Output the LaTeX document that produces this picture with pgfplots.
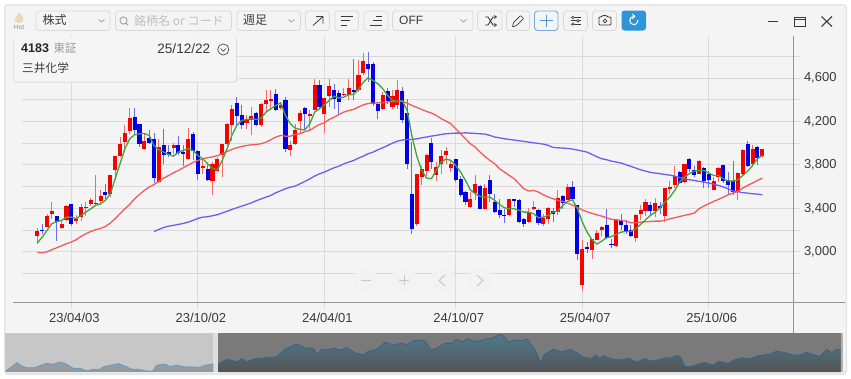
\documentclass[border=0pt]{standalone}
\usepackage{pgfplots}
\usepackage{pgfplotstable}
\usepackage{fontspec}
\pgfplotsset{compat=1.18}
\setmainfont{Liberation Sans}
\newfontfamily\cjk{Noto Sans CJK JP}
\definecolor{winbg}{HTML}{F4F4F4}
\definecolor{gridc}{HTML}{DADADA}
\definecolor{btn}{HTML}{D9D9D9}
\definecolor{ink}{HTML}{3A3A3A}
\definecolor{upc}{HTML}{F80000}
\definecolor{dnc}{HTML}{0000E6}
\definecolor{upw}{HTML}{F26A6A}
\definecolor{dnw}{HTML}{6A6AF0}
\definecolor{mag}{HTML}{3FA53F}
\definecolor{mar}{HTML}{F05C5C}
\definecolor{mab}{HTML}{6A60EC}
\definecolor{flame}{HTML}{E9D8BC}
\definecolor{ovtl}{HTML}{8F9DAA}
\definecolor{ovbl}{HTML}{989898}
\definecolor{ovll}{HTML}{6E9BBE}
\definecolor{ovtr}{HTML}{507A8C}
\definecolor{ovbr}{HTML}{525456}
\definecolor{ovlr}{HTML}{3A6487}
\pgfplotstableread{
i o h l c
0 3141 3215 3073 3190
2 3227 3344 3227 3332
3 3344 3455 3304 3378
5 3215 3283 3212 3252
6 3295 3433 3283 3418
8 3283 3335 3252 3304
9 3320 3442 3283 3415
10 3399 3458 3326 3415
11 3436 3497 3424 3473
12 3436 3703 3427 3448
13 3464 3565 3427 3516
15 3528 3706 3504 3706
16 3749 3884 3657 3884
17 3878 4056 3872 3995
18 4010 4164 3918 4093
19 4117 4326 4087 4234
22 3949 4087 3933 4019
25 3642 4041 3633 3964
28 3952 4001 3903 3979
31 3857 4142 3847 4041
34 3774 3857 3718 3786
36 3651 3826 3519 3811
37 3743 3872 3734 3851
38 3893 3992 3688 3992
39 3995 4188 3949 4176
40 4164 4348 4025 4311
43 4188 4256 4133 4219
44 4210 4333 4078 4250
46 4170 4373 4148 4363
47 4363 4486 4287 4397
48 4388 4486 4311 4406
50 4327 4379 4302 4351
52 3933 4025 3881 3986
53 3989 4179 3986 4124
54 4201 4302 4096 4280
56 4247 4302 4118 4265
57 4302 4594 4302 4538
59 4271 4416 4096 4416
60 4434 4594 4333 4526
63 4440 4508 4431 4456
64 4446 4594 4394 4511
66 4492 4763 4471 4625
67 4646 4833 4625 4760
71 4311 4471 4302 4446
73 4333 4486 4311 4434
74 4348 4585 4317 4492
78 3252 3719 3233 3713
79 3688 3789 3617 3759
80 3743 3903 3694 3894
82 3703 3826 3648 3780
83 3811 3934 3719 3885
84 3891 3964 3811 3924
85 3771 3848 3734 3805
89 3411 3550 3402 3482
90 3544 3703 3473 3626
92 3390 3626 3387 3583
97 3335 3482 3329 3482
101 3273 3405 3267 3365
102 3390 3464 3381 3415
104 3252 3350 3239 3310
105 3301 3411 3258 3402
107 3365 3571 3335 3494
109 3479 3626 3473 3593
112 2689 3104 2640 3027
114 3012 3120 2935 3113
115 3110 3196 3104 3175
116 3196 3233 3141 3227
119 3049 3304 3046 3295
123 3123 3350 3089 3341
124 3350 3430 3295 3387
125 3378 3488 3325 3461
127 3372 3494 3319 3451
129 3325 3590 3273 3583
130 3580 3651 3534 3596
131 3617 3786 3590 3694
133 3642 3811 3636 3805
136 3719 3848 3712 3835
139 3571 3688 3565 3648
140 3688 3780 3642 3774
144 3550 3734 3473 3725
145 3712 3949 3703 3940
147 3805 3980 3795 3946
149 3878 3949 3866 3943
}\redtab
\pgfplotstableread{
i o h l c
1 3203 3258 3166 3187
4 3326 3326 3098 3274
7 3436 3436 3234 3258
14 3550 3626 3488 3519
20 4240 4326 4087 4124
21 4173 4179 3964 3989
23 4047 4118 3995 4004
24 4041 4093 3633 3679
26 3979 4127 3804 3887
27 3921 3979 3872 3890
29 3979 4065 3887 3909
30 3918 3979 3786 3903
32 4081 4102 3841 3927
33 3927 3933 3663 3718
35 3765 3795 3651 3657
41 4373 4425 4164 4250
42 4256 4348 4133 4164
45 4280 4287 4164 4170
49 4449 4502 4296 4308
51 4400 4425 3918 3949
55 4327 4333 4118 4271
58 4538 4585 4317 4330
61 4486 4548 4317 4409
62 4465 4495 4271 4379
65 4489 4778 4394 4471
68 4729 4840 4563 4686
69 4729 4747 4342 4363
70 4357 4379 4219 4296
72 4477 4511 4363 4385
75 4477 4517 4188 4210
76 4277 4409 3764 3810
77 3534 4010 3166 3206
81 4004 4050 3765 3823
86 3854 3857 3642 3657
87 3670 3694 3504 3519
88 3550 3559 3427 3457
91 3602 3611 3396 3396
93 3657 3703 3457 3534
94 3454 3528 3359 3365
95 3381 3482 3313 3335
96 3341 3396 3267 3329
98 3482 3488 3411 3467
99 3479 3485 3264 3270
100 3301 3307 3227 3258
103 3387 3396 3249 3264
106 3375 3405 3273 3347
108 3513 3525 3396 3448
110 3596 3648 3479 3485
111 3427 3433 2920 2981
113 3043 3089 2988 3027
117 3242 3396 3120 3129
118 3070 3120 3034 3058
120 3289 3350 3196 3242
121 3249 3289 3166 3184
122 3196 3242 3141 3147
126 3427 3458 3335 3372
128 3418 3458 3350 3399
132 3734 3743 3626 3636
134 3857 3866 3734 3765
135 3755 3786 3688 3709
137 3771 3780 3590 3648
138 3719 3743 3590 3657
141 3795 3802 3633 3648
142 3657 3734 3519 3611
143 3651 3835 3519 3550
146 3989 4017 3783 3789
148 3964 3971 3795 3863
}\bluetab
\pgfplotstableread{
x h
6 1.3
10 3.7
16.7 9.3
21.7 6
26.7 4.3
35 4.3
41.7 7
46.7 8.7
53.3 7.7
60 10
65 8.7
73.3 3.7
80 3.7
86.7 1
93.3 2.7
100 2.7
103.3 5
110 6.7
118.3 8.3
126.7 5.3
131.7 2.7
138.3 2.7
146.7 1
152.7 1
156.7 6.7
165 8
170 5.3
176.7 7
183.3 5.3
191.7 5
200 4.7
205 6.7
213.3 8
}\ovleft
\pgfplotstableread{
x h
218.3 8
226.7 12.7
236.7 10.3
241.7 13.3
246.7 10.3
255 13.3
266.7 14.3
276.7 15.3
285 22.7
296.7 28
305 24
312.7 24
317.3 18
321.7 22.7
328.3 22
333.3 23.7
340 22
346.7 24.3
355 19.3
363.3 17.3
368.3 20.7
376.7 22.7
385 29.7
393.3 27
401.7 28.7
406.7 27
413.3 31.3
420 31.7
425 31
430.7 22.7
435 23
445 28.7
451.7 28.7
456 33
461.7 30
468.3 33.3
473.3 30.7
480 31
486.7 33.3
491.7 33.3
500 37.7
503.3 36
508.3 30
516.7 32
521.7 31.3
527.3 32.7
535 22
540.7 9.3
544 17
553.3 22.7
561.7 20
570 22.7
576.7 19.3
583.3 14.7
591.7 13.7
596 17
600 13
603.3 16.3
611.7 13
621.7 12
628.3 14
636.7 10
645 13.3
650 11
658.3 12
665 14.3
670 13.7
676.7 16.7
680.7 14.7
685 5.3
691.7 5.7
705 9.7
713.3 6.7
718.3 10.7
728.3 8.7
735 12.7
743.3 14.3
750 13
758.3 16.3
770 18
776.7 20.7
785 19.3
793.3 17
800 17
806.7 19.7
815 16.7
820 15.7
826.7 22.7
831.7 19.3
836.7 22.7
840.7 22
}\ovright
\newcommand\wicks[2]{\addplot[draw=none,forget plot,error bars/.cd,y dir=both,y explicit,error mark=none,error bar style={draw=#2,line width=1pt,solid}] table[x=i,y=c,y error plus expr=\thisrow{h}-\thisrow{c},y error minus expr=\thisrow{c}-\thisrow{l}] {#1};}
\newcommand\bodies[2]{\addplot[draw=none,forget plot,error bars/.cd,y dir=both,y explicit,error mark=none,error bar style={draw=#2,line width=4.1pt,solid}] table[x=i,y=c,y error plus expr={max(\thisrow{o}-\thisrow{c},0)},y error minus expr={max(\thisrow{c}-\thisrow{o},0)}] {#1};}
\newcommand\tbtn[2]{\draw[btn,line width=0.8pt,rounded corners=3pt] (#1,11) rectangle (#2,30.5);}
\begin{document}
\begin{tikzpicture}
\useasboundingbox (0pt,0pt) rectangle (851pt,-378pt);
\fill[white] (0pt,0pt) rectangle (851pt,-378pt);
\begin{scope}[x=1pt,y=-1pt]
\fill[black!10,rounded corners=4pt] (4,4) rectangle (847,375);
\fill[winbg,rounded corners=3pt] (5.5,5.5) rectangle (845.5,373);
% overview background
\fill[black!22] (5,333) rectangle (213,372);
\fill[black!13] (213,333) rectangle (218,372);
\fill[black!52] (218,333) rectangle (841,372);
\fill[black!30] (841,333) rectangle (843,372);
\end{scope}
% main chart
\begin{axis}[
 at={(22pt,-302.3pt)},anchor=south west,scale only axis,width=771.3pt,height=266.3pt,
 xmin=-3.146,xmax=155.37,ymin=2534,ymax=4988,
 axis line style={draw=none},
 grid=both,major grid style={gridc,line width=1pt},
 xtick={7,33,59,86,112,138},xticklabels={23/04/03,23/10/02,24/04/01,24/10/07,25/04/07,25/10/06},
 ytick={2800,3000,3200,3400,3600,3800,4000,4200,4400,4600,4800},
 yticklabels={{},{3,000},{},{3,400},{},{3,800},{},{4,200},{},{4,600},{}},
 tick align=outside,major tick length=6.5pt,tick style={gridc,line width=1pt},
 xtick pos=bottom,ytick pos=right,yticklabel pos=right,
 x tick label style={font=\fontsize{13}{14}\selectfont,text=ink,xshift=3pt,yshift=-1pt},
 y tick label style={font=\fontsize{13}{14}\selectfont,text=ink,anchor=west,inner xsep=0pt,xshift=4pt},
]
\wicks{\redtab}{upw}
\wicks{\bluetab}{dnw}
\bodies{\redtab}{upc}
\bodies{\bluetab}{dnc}
\addplot[mab,line width=1.3pt,forget plot] coordinates {(24,3187)(25,3206)(26,3224)(27,3236)(28,3243)(29,3252)(30,3261)(31,3273)(32,3289)(33,3307)(34,3319)(35,3322)(36,3332)(37,3341)(38,3357)(39,3373)(40,3390)(41,3405)(42,3420)(43,3435)(44,3450)(45,3470)(46,3487)(47,3503)(48,3519)(49,3543)(50,3562)(51,3580)(52,3595)(53,3605)(54,3626)(55,3648)(56,3672)(57,3697)(58,3718)(59,3734)(60,3755)(61,3774)(62,3789)(63,3810)(64,3826)(65,3841)(66,3863)(67,3881)(68,3903)(69,3918)(70,3940)(71,3958)(72,3979)(73,4001)(74,4019)(75,4029)(76,4035)(77,4035)(78,4041)(79,4050)(80,4057)(81,4066)(82,4072)(83,4081)(84,4087)(85,4090)(86,4093)(87,4093)(88,4096)(89,4093)(90,4090)(91,4087)(92,4084)(93,4072)(94,4057)(95,4050)(96,4041)(97,4035)(98,4029)(99,4023)(100,4017)(101,4010)(102,4004)(103,3998)(104,3992)(105,3980)(106,3961)(107,3958)(108,3955)(109,3952)(110,3946)(111,3937)(112,3928)(113,3918)(114,3897)(115,3875)(116,3857)(117,3848)(118,3835)(119,3826)(120,3817)(121,3802)(122,3786)(123,3771)(124,3755)(125,3743)(126,3731)(127,3725)(128,3719)(129,3712)(130,3706)(131,3697)(132,3685)(133,3673)(134,3663)(135,3657)(136,3648)(137,3642)(138,3633)(139,3623)(140,3611)(141,3596)(142,3580)(143,3559)(144,3553)(145,3544)(146,3540)(147,3534)(148,3531)(149,3525)};
\addplot[mar,line width=1.3pt,forget plot] coordinates {(0,2994)(1,2991)(2,3000)(3,3019)(4,3037)(5,3055)(6,3074)(7,3089)(8,3111)(9,3141)(10,3166)(11,3187)(12,3203)(13,3215)(14,3233)(15,3264)(16,3304)(17,3350)(18,3396)(19,3436)(20,3488)(21,3528)(22,3565)(23,3596)(24,3620)(25,3651)(26,3679)(27,3703)(28,3728)(29,3749)(30,3774)(31,3798)(32,3823)(33,3841)(34,3857)(35,3866)(36,3875)(37,3885)(38,3903)(39,3924)(40,3943)(41,3958)(42,3970)(43,3979)(44,3986)(45,3989)(46,3995)(47,4010)(48,4032)(49,4056)(50,4072)(51,4065)(52,4065)(53,4081)(54,4087)(55,4108)(56,4118)(57,4148)(58,4173)(59,4188)(60,4219)(61,4240)(62,4265)(63,4287)(64,4302)(65,4311)(66,4333)(67,4354)(68,4366)(69,4370)(70,4373)(71,4373)(72,4379)(73,4385)(74,4385)(75,4385)(76,4370)(77,4348)(78,4330)(79,4311)(80,4293)(81,4278)(82,4256)(83,4226)(84,4204)(85,4179)(86,4133)(87,4087)(88,4041)(89,3995)(90,3964)(91,3918)(92,3878)(93,3842)(94,3811)(95,3765)(96,3734)(97,3703)(98,3673)(99,3626)(100,3580)(101,3559)(102,3565)(103,3550)(104,3525)(105,3504)(106,3488)(107,3473)(108,3464)(109,3448)(110,3430)(111,3408)(112,3385)(113,3368)(114,3353)(115,3340)(116,3328)(117,3313)(118,3298)(119,3295)(120,3289)(121,3282)(122,3267)(123,3267)(124,3273)(125,3276)(126,3279)(127,3282)(128,3282)(129,3289)(130,3304)(131,3313)(132,3325)(133,3335)(134,3344)(135,3356)(136,3396)(137,3421)(138,3442)(139,3464)(140,3482)(141,3504)(142,3525)(143,3540)(144,3556)(145,3587)(146,3611)(147,3633)(148,3657)(149,3679)};
\addplot[mag,line width=1.3pt,forget plot] coordinates {(0,3080)(1,3135)(2,3197)(3,3258)(4,3279)(5,3289)(6,3319)(7,3319)(8,3304)(9,3335)(10,3365)(11,3396)(12,3427)(13,3442)(14,3473)(15,3534)(16,3672)(17,3811)(18,3949)(19,4041)(20,4078)(21,4087)(22,4090)(23,4071)(24,3979)(25,3939)(26,3918)(27,3897)(28,3881)(29,3918)(30,3933)(31,3949)(32,3933)(33,3887)(34,3857)(35,3811)(36,3768)(37,3755)(38,3841)(39,3949)(40,4072)(41,4164)(42,4210)(43,4219)(44,4225)(45,4219)(46,4231)(47,4287)(48,4317)(49,4348)(50,4373)(51,4256)(52,4179)(53,4139)(54,4127)(55,4124)(56,4179)(57,4287)(58,4317)(59,4354)(60,4394)(61,4434)(62,4416)(63,4425)(64,4446)(65,4449)(66,4496)(67,4563)(68,4603)(69,4578)(70,4548)(71,4502)(72,4440)(73,4394)(74,4385)(75,4394)(76,4302)(77,4065)(78,3880)(79,3749)(80,3679)(81,3673)(82,3749)(83,3826)(84,3854)(85,3842)(86,3795)(87,3734)(88,3657)(89,3571)(90,3534)(91,3510)(92,3504)(93,3504)(94,3473)(95,3436)(96,3405)(97,3396)(98,3396)(99,3381)(100,3365)(101,3365)(102,3350)(103,3313)(104,3319)(105,3335)(106,3365)(107,3375)(108,3427)(109,3464)(110,3478)(111,3396)(112,3275)(113,3180)(114,3112)(115,3070)(116,3098)(117,3129)(118,3141)(119,3160)(120,3181)(121,3187)(122,3187)(123,3212)(124,3252)(125,3295)(126,3335)(127,3365)(128,3405)(129,3458)(130,3504)(131,3565)(132,3642)(133,3688)(134,3719)(135,3743)(136,3749)(137,3749)(138,3725)(139,3703)(140,3703)(141,3673)(142,3651)(143,3651)(144,3663)(145,3703)(146,3743)(147,3795)(148,3857)(149,3888)};
\end{axis}
% overview
\begin{axis}[
 at={(5pt,-372pt)},anchor=south west,scale only axis,width=836pt,height=39pt,
 xmin=5,xmax=841,ymin=0,ymax=39,hide axis,clip=true]
\addplot[draw=none,forget plot,top color=ovtl,bottom color=ovbl] table[x=x,y=h] {\ovleft} \closedcycle;
\addplot[ovll,line width=0.9pt,forget plot] table[x=x,y=h] {\ovleft};
\addplot[draw=none,forget plot,top color=ovtr,bottom color=ovbr] table[x=x,y=h] {\ovright} \closedcycle;
\addplot[ovlr,line width=0.9pt,forget plot] table[x=x,y=h] {\ovright};
\end{axis}
\begin{scope}[x=1pt,y=-1pt]
% axes lines
\draw[black!42,line width=0.9pt] (13,302.3) -- (845,302.3);
\draw[black!42,line width=0.9pt] (793.3,36) -- (793.3,333);
% nav buttons
\foreach \cx in {366,404,442,480} \fill[black!5] (\cx,280) circle (12.5);
\draw[black!22,line width=1pt] (361,280) -- (371,280) (399,280) -- (409,280) (404,275) -- (404,285);
\draw[black!22,line width=1pt] (445,275) -- (439,280.5) -- (445,286) (477,275) -- (483,280.5) -- (477,286);
% toolbar
\fill[flame] (19,12) .. controls (20,15) and (24,16) .. (23.5,20) .. controls (23,24) and (15,24) .. (14.5,20) .. controls (14.5,17) and (17,17) .. (19,12);
\node[font=\fontsize{6.5}{7}\selectfont,text=black!45] at (19,27.5) {Hot};
\tbtn{36}{110}\tbtn{115.5}{231.5}\tbtn{237}{300.5}\tbtn{305.5}{329.5}\tbtn{335}{358.5}\tbtn{364}{388}\tbtn{392.5}{473}\tbtn{477.5}{502}\tbtn{506.5}{529.5}\tbtn{563.5}{587.5}\tbtn{592.5}{616.5}
\draw[cyan!60!blue!55,line width=0.9pt,rounded corners=3pt] (534.5,11) rectangle (558,30.5);
\fill[cyan!70!blue!85!white,rounded corners=3pt] (621.5,10.5) rectangle (646,30.5);
\node[anchor=west,font=\cjk\fontsize{12}{13}\selectfont,text=ink,inner sep=0pt] at (42.5,20) {株式};
\node[anchor=west,font=\cjk\fontsize{12}{13}\selectfont,text=black!25,inner sep=0pt] at (134,20.5) {銘柄名 or コード};
\node[anchor=west,font=\cjk\fontsize{12}{13}\selectfont,text=ink,inner sep=0pt] at (243,20) {週足};
\node[anchor=west,font=\fontsize{12}{13}\selectfont,text=ink,inner sep=0pt] at (399,20.5) {OFF};
\foreach \cx in {101.5,291.5,463.5} \draw[black!40,line width=0.7pt] (\cx-3,19.5) -- (\cx,22) -- (\cx+3,19.5);
\draw[black!40,line width=0.8pt] (123.5,20.5) circle (3.6) (126,23.3) -- (128.2,25.3);
% arrow
\draw[ink,line width=0.8pt] (313,25.5) -- (323,16.5) (316,16.5) -- (323,16.5) -- (323,23.5);
% align icons
\draw[ink,line width=0.8pt] (340.5,16.5) -- (353,16.5) (340.5,20.5) -- (349.5,20.5) (340.5,25) -- (346.5,25);
\draw[ink,line width=0.8pt] (376,16.5) -- (382,16.5) (373,20.5) -- (382,20.5) (369.5,25) -- (382,25);
% shuffle
\draw[ink,line width=0.9pt] (485,17) -- (488,17) -- (493,25) -- (496,25) (485,25) -- (488,25) -- (493,17) -- (496,17);
\draw[ink,line width=0.7pt] (494,15.5) -- (496.5,17) -- (494,18.5) (494,23.5) -- (496.5,25) -- (494,26.5);
% pencil
\draw[ink,line width=0.7pt,rounded corners=0.5pt] (512.5,27) -- (513.5,22.5) -- (520.5,15.5) -- (523.5,18.5) -- (516.5,25.5) -- cycle;
% plus
\draw[cyan!60!blue!70,line width=1pt] (546.3,14.5) -- (546.3,27) (540,20.8) -- (552.5,20.8);
% sliders
\draw[ink,line width=0.7pt] (570.5,17.5) -- (581,17.5) (570.5,20.8) -- (581,20.8) (570.5,24) -- (581,24);
\fill[winbg,draw=ink,line width=0.6pt] (573,17.5) circle (1.3) (578,20.8) circle (1.3) (573,24) circle (1.3);
% camera
\draw[ink,line width=0.8pt,rounded corners=1pt] (599,17) -- (601.5,17) -- (602.5,15.5) -- (606.5,15.5) -- (607.5,17) -- (611,17) -- (611,25) -- (599,25) -- cycle;
\draw[ink,line width=0.7pt] (605,21) circle (1.8);
% refresh
\draw[white,line width=1pt] (633.8,16.4) arc[start angle=-90,end angle=-365,radius=4.1];
\draw[white,line width=0.9pt] (632.3,14) -- (634.8,16.4) -- (632.3,18.6);
% window controls
\draw[ink,line width=1pt] (768,21.5) -- (778,21.5);
\draw[ink,line width=0.9pt] (794.5,17.5) rectangle (805,26.5) (794.5,19.5) -- (805,19.5);
\draw[ink,line width=1.1pt] (821.5,16.5) -- (832,26.5) (832,16.5) -- (821.5,26.5);
% info box
\fill[black!14,rounded corners=3pt] (13,38) rectangle (237,82.7);
\fill[black!4,rounded corners=3pt] (13.5,37.7) rectangle (236,81.5);
\node[anchor=west,font=\bfseries\fontsize{12.5}{13}\selectfont,text=black!85,inner sep=0pt] at (21,48.5) {4183};
\node[anchor=west,font=\cjk\fontsize{11.5}{12}\selectfont,text=black!40,inner sep=0pt] at (53.5,48.5) {東証};
\node[anchor=east,font=\fontsize{13.6}{14}\selectfont,text=ink,inner sep=0pt] at (210.5,48.5) {25/12/22};
\draw[ink,line width=0.6pt] (223.3,49.5) circle (5.6);
\draw[ink,line width=0.6pt] (220.5,48.5) -- (223.3,51.3) -- (226,48.5);
\node[anchor=west,font=\cjk\fontsize{11.7}{12}\selectfont,text=ink,inner sep=0pt] at (22,68.5) {三井化学};
\end{scope}
\end{tikzpicture}
\end{document}
